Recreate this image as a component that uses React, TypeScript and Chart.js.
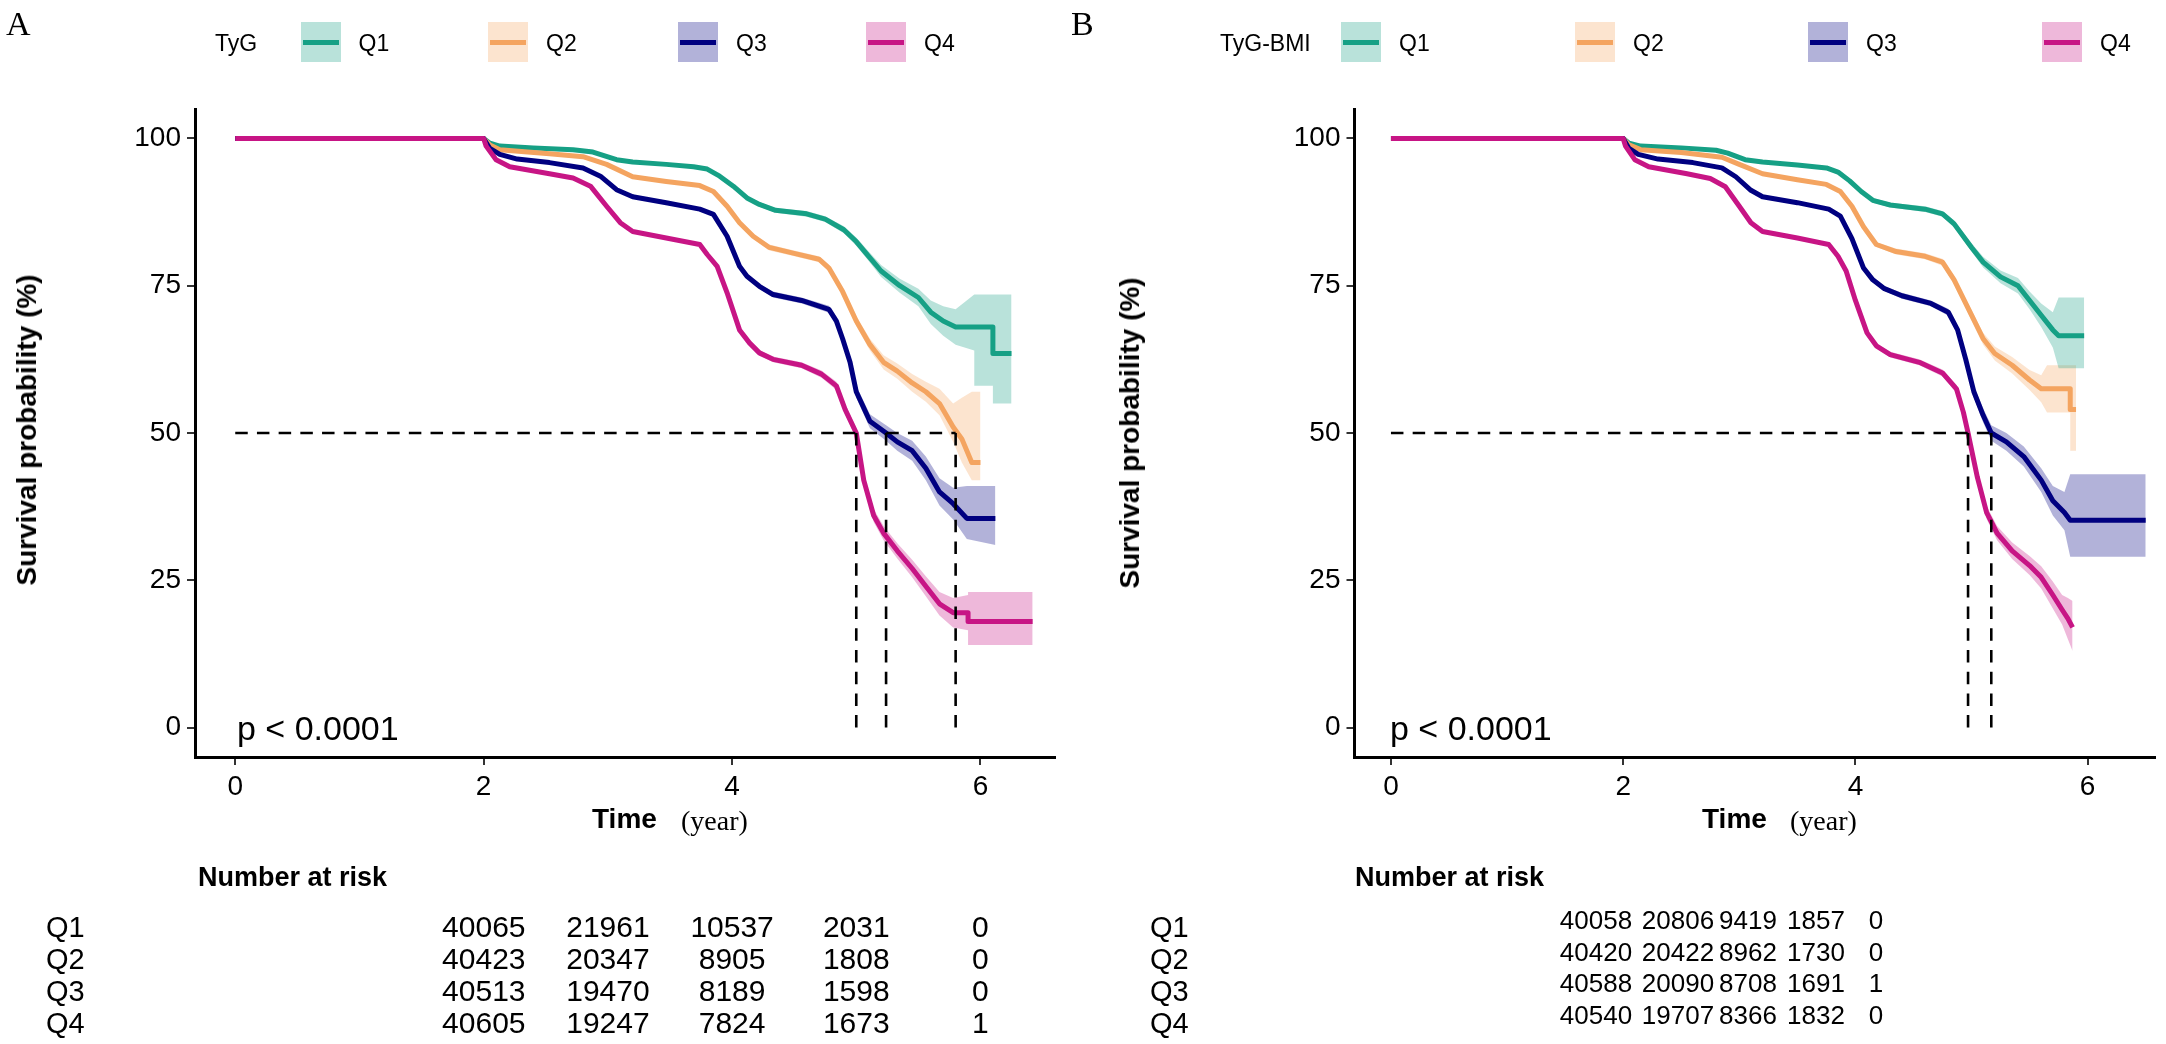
import React, { useEffect, useRef } from "react";
import { Chart, registerables } from "chart.js";
Chart.register(...registerables);

const SANS = '"Liberation Sans", Arial, Helvetica, sans-serif';
const SERIF = '"Liberation Serif", "Times New Roman", serif';

// ---------- data ----------
const groups = ["Q1", "Q2", "Q3", "Q4"];
const lineColors = ["#16A085", "#F4A460", "#000080", "#C71585"];
const bandColors = [
  "rgba(22,160,133,0.3)",
  "rgba(244,164,96,0.3)",
  "rgba(0,0,128,0.3)",
  "rgba(199,21,133,0.3)",
];
const xTicks = [0, 2, 4, 6];
const yTicks = [0, 25, 50, 75, 100];
const riskTimes = [2, 3, 4, 5, 6];

// rows: [time, survival %, lower %, upper %]
const tygQ1 = [
  [0, 100, 100, 100], [2.0, 100, 100, 100], [2.05, 99.2, 99.0, 99.4], [2.13, 98.7, 98.5, 98.9],
  [2.4, 98.4, 98.2, 98.6], [2.72, 98.1, 97.9, 98.3], [2.88, 97.7, 97.5, 97.9], [3.07, 96.4, 96.2, 96.6],
  [3.2, 96.0, 95.8, 96.2], [3.47, 95.6, 95.4, 95.8], [3.69, 95.2, 95.0, 95.4], [3.8, 94.8, 94.5, 95.1],
  [3.9, 93.6, 93.3, 93.9], [4.01, 91.9, 91.6, 92.2], [4.12, 89.9, 89.6, 90.2], [4.22, 88.8, 88.4, 89.2],
  [4.35, 87.8, 87.4, 88.2], [4.6, 87.2, 86.7, 87.7], [4.75, 86.3, 85.8, 86.8], [4.9, 84.5, 83.9, 85.1],
  [5.0, 82.5, 81.8, 83.2], [5.1, 80, 79.2, 80.8], [5.2, 77.5, 76.5, 78.5], [5.35, 75, 73.8, 76.2],
  [5.5, 73, 71.5, 74.5], [5.6, 70.5, 68.5, 72.5], [5.7, 69, 66.5, 71.5], [5.8, 68, 65, 71],
  [5.95, 68, 64, 73.5], [5.95, 68, 58, 73.5], [6.1, 68, 58, 73.5], [6.1, 63.5, 55, 73.5], [6.25, 63.5, 55, 73.5],
];
const tygQ2 = [
  [0, 100, 100, 100], [2.0, 100, 100, 100], [2.05, 98.9, 98.7, 99.1], [2.13, 98.1, 97.9, 98.3],
  [2.53, 97.4, 97.2, 97.6], [2.8, 96.9, 96.7, 97.1], [2.99, 95.6, 95.4, 95.8], [3.2, 93.5, 93.2, 93.8],
  [3.47, 92.7, 92.4, 93.0], [3.74, 92.0, 91.7, 92.3], [3.85, 91.0, 90.7, 91.3], [3.96, 88.5, 88.2, 88.8],
  [4.06, 85.7, 85.3, 86.1], [4.17, 83.4, 83.0, 83.8], [4.3, 81.5, 81.0, 82.0], [4.5, 80.5, 80.0, 81.0],
  [4.7, 79.5, 79.0, 80.0], [4.78, 78, 77.4, 78.6], [4.89, 74, 73.3, 74.7], [5.0, 69, 68.2, 69.8],
  [5.11, 65, 64.0, 66.0], [5.22, 62, 60.8, 63.2], [5.33, 60.5, 59.2, 61.8], [5.45, 58.5, 57.0, 60.0],
  [5.56, 57, 55.3, 58.7], [5.67, 55, 53.0, 57.5], [5.78, 51, 48.5, 55], [5.85, 49, 45, 56],
  [5.93, 45, 42, 57], [6.0, 45, 42, 57],
];
const tygQ3 = [
  [0, 100, 100, 100], [2.0, 100, 100, 100], [2.05, 98.3, 98.1, 98.5], [2.13, 97.3, 97.1, 97.5],
  [2.27, 96.5, 96.3, 96.7], [2.53, 95.9, 95.7, 96.1], [2.8, 95.0, 94.8, 95.2], [2.94, 93.6, 93.4, 93.8],
  [3.07, 91.3, 91.0, 91.6], [3.2, 90.1, 89.8, 90.4], [3.47, 89.1, 88.8, 89.4], [3.74, 88.0, 87.7, 88.3],
  [3.85, 87.1, 86.8, 87.4], [3.96, 83.4, 83.0, 83.8], [4.06, 78.3, 77.9, 78.7], [4.12, 76.6, 76.2, 77.0],
  [4.22, 74.9, 74.5, 75.3], [4.33, 73.5, 73.0, 74.0], [4.56, 72.5, 72.0, 73.0], [4.78, 71, 70.4, 71.6],
  [4.84, 69, 68.3, 69.7], [4.89, 66, 65.2, 66.8], [4.95, 62, 61.1, 62.9], [5.0, 57, 56.0, 58.0],
  [5.11, 52, 50.8, 53.2], [5.24, 50, 48.7, 51.3], [5.33, 48.5, 47.0, 50.0], [5.45, 47, 45.3, 48.7],
  [5.56, 44, 42.0, 46.0], [5.67, 40, 37.7, 42.3], [5.78, 38, 35.3, 40.7], [5.89, 35.5, 32, 41],
  [6.12, 35.5, 31, 41],
];
const tygQ4 = [
  [0, 100, 100, 100], [2.0, 100, 100, 100], [2.02, 98.7, 98.5, 98.9], [2.1, 96.4, 96.2, 96.6],
  [2.21, 95.2, 95.0, 95.4], [2.53, 94.0, 93.8, 94.2], [2.72, 93.3, 93.1, 93.5], [2.86, 91.9, 91.7, 92.1],
  [2.99, 88.5, 88.2, 88.8], [3.1, 85.7, 85.4, 86.0], [3.2, 84.2, 83.9, 84.5], [3.47, 83.1, 82.8, 83.4],
  [3.74, 82.0, 81.7, 82.3], [3.8, 80.3, 80.0, 80.6], [3.88, 78.3, 78.0, 78.6], [3.96, 73.8, 73.4, 74.2],
  [4.06, 67.5, 67.1, 67.9], [4.14, 65.3, 64.9, 65.7], [4.22, 63.6, 63.1, 64.1], [4.33, 62.5, 62.0, 63.0],
  [4.56, 61.5, 61.0, 62.0], [4.72, 60, 59.4, 60.6], [4.84, 58, 57.3, 58.7], [4.91, 54, 53.2, 54.8],
  [5.0, 50, 49.1, 50.9], [5.06, 42, 41.0, 43.0], [5.14, 36, 34.9, 37.1], [5.22, 33, 31.8, 34.2],
  [5.33, 30, 28.7, 31.3], [5.45, 27, 25.5, 28.5], [5.56, 24, 22.3, 25.7], [5.67, 21, 19.0, 23.0],
  [5.78, 19.5, 17, 22], [5.9, 19.5, 16.5, 22.5], [5.9, 18, 14, 23], [6.42, 18, 14, 23],
];
const tygMedians = [5.0, 5.24, 5.8];

const bmiQ1 = [
  [0, 100, 100, 100], [2.0, 100, 100, 100], [2.05, 99.2, 99.0, 99.4], [2.15, 98.7, 98.5, 98.9],
  [2.5, 98.4, 98.2, 98.6], [2.8, 98.0, 97.8, 98.2], [2.9, 97.5, 97.3, 97.7], [3.05, 96.4, 96.2, 96.6],
  [3.2, 96.0, 95.8, 96.2], [3.5, 95.5, 95.3, 95.7], [3.75, 95.0, 94.8, 95.2], [3.85, 94.3, 94.0, 94.6],
  [3.95, 92.8, 92.5, 93.1], [4.05, 91.0, 90.7, 91.3], [4.15, 89.5, 89.1, 89.9], [4.3, 88.7, 88.3, 89.1],
  [4.6, 88.0, 87.5, 88.5], [4.75, 87.2, 86.7, 87.7], [4.85, 85.5, 84.9, 86.1], [5.0, 81.5, 80.8, 82.2],
  [5.1, 79, 78.1, 79.9], [5.25, 76.5, 75.4, 77.6], [5.4, 75, 73.7, 76.3], [5.5, 72.5, 71, 74],
  [5.6, 70, 68, 72], [5.7, 67.5, 64.5, 70.5], [5.75, 66.5, 61, 73], [5.97, 66.5, 61, 73],
];
const bmiQ2 = [
  [0, 100, 100, 100], [2.0, 100, 100, 100], [2.05, 98.9, 98.7, 99.1], [2.15, 98.1, 97.9, 98.3],
  [2.5, 97.6, 97.4, 97.8], [2.85, 96.8, 96.6, 97.0], [3.0, 95.6, 95.4, 95.8], [3.2, 94.0, 93.7, 94.3],
  [3.5, 93.0, 92.7, 93.3], [3.75, 92.2, 91.9, 92.5], [3.87, 91.0, 90.7, 91.3], [3.97, 88.5, 88.2, 88.8],
  [4.07, 85.0, 84.6, 85.4], [4.18, 82.0, 81.6, 82.4], [4.35, 80.8, 80.3, 81.3], [4.6, 80.0, 79.5, 80.5],
  [4.75, 79.0, 78.4, 79.6], [4.85, 76.0, 75.3, 76.7], [5.0, 70.0, 69.1, 70.9], [5.1, 66.0, 65.0, 67.0],
  [5.2, 63.5, 62.3, 64.7], [5.35, 61.5, 60.1, 62.9], [5.5, 59.0, 57.3, 60.7], [5.6, 57.5, 55.2, 59.8],
  [5.65, 57.5, 53.5, 61.5], [5.85, 57.5, 53.5, 61.5], [5.85, 54, 47, 61.5], [5.9, 54, 47, 61.5],
];
const bmiQ3 = [
  [0, 100, 100, 100], [2.0, 100, 100, 100], [2.05, 98.3, 98.1, 98.5], [2.13, 97.3, 97.1, 97.5],
  [2.3, 96.5, 96.3, 96.7], [2.6, 95.9, 95.7, 96.1], [2.85, 95.0, 94.8, 95.2], [2.97, 93.5, 93.3, 93.7],
  [3.1, 91.2, 90.9, 91.5], [3.2, 90.1, 89.8, 90.4], [3.5, 89.1, 88.8, 89.4], [3.77, 88.0, 87.7, 88.3],
  [3.87, 86.8, 86.5, 87.1], [3.97, 83.0, 82.6, 83.4], [4.07, 78.0, 77.6, 78.4], [4.15, 76.0, 75.6, 76.4],
  [4.25, 74.5, 74.1, 74.9], [4.4, 73.3, 72.8, 73.8], [4.65, 72.0, 71.5, 72.5], [4.8, 70.5, 69.9, 71.1],
  [4.88, 67.5, 66.8, 68.2], [4.95, 62.5, 61.6, 63.4], [5.02, 57.0, 56.0, 58.0], [5.1, 53.0, 51.8, 54.2],
  [5.17, 50.0, 48.7, 51.3], [5.3, 48.5, 47.0, 50.0], [5.45, 46.0, 44.3, 47.7], [5.6, 42.0, 40.0, 44.0],
  [5.7, 38.5, 36.0, 41.0], [5.8, 36.5, 33.5, 40.0], [5.85, 35.2, 29, 43], [6.5, 35.2, 29, 43],
];
const bmiQ4 = [
  [0, 100, 100, 100], [2.0, 100, 100, 100], [2.02, 98.7, 98.5, 98.9], [2.1, 96.4, 96.2, 96.6],
  [2.22, 95.2, 95.0, 95.4], [2.55, 94.0, 93.8, 94.2], [2.75, 93.2, 93.0, 93.4], [2.88, 91.8, 91.6, 92.0],
  [3.0, 88.5, 88.2, 88.8], [3.1, 85.7, 85.4, 86.0], [3.2, 84.2, 83.9, 84.5], [3.5, 83.1, 82.8, 83.4],
  [3.77, 82.0, 81.7, 82.3], [3.85, 80.0, 79.7, 80.3], [3.92, 77.5, 77.2, 77.8], [4.0, 72.5, 72.1, 72.9],
  [4.1, 67.0, 66.6, 67.4], [4.18, 64.8, 64.4, 65.2], [4.3, 63.3, 62.8, 63.8], [4.55, 62.0, 61.5, 62.5],
  [4.75, 60.2, 59.6, 60.8], [4.87, 57.5, 56.8, 58.2], [4.93, 53.5, 52.7, 54.3], [4.97, 50.0, 49.1, 50.9],
  [5.05, 42.5, 41.5, 43.5], [5.13, 36.5, 35.4, 37.6], [5.22, 33.0, 31.8, 34.2], [5.35, 30.0, 28.6, 31.4],
  [5.5, 27.5, 25.9, 29.1], [5.6, 25.5, 23.6, 27.4], [5.7, 22.5, 20.2, 24.8], [5.78, 20.0, 17.5, 22.5],
  [5.83, 18.5, 15, 22], [5.87, 17.0, 13, 21.5],
];
const bmiMedians = [4.97, 5.17];

const tygRisk = [
  [40065, 21961, 10537, 2031, 0],
  [40423, 20347, 8905, 1808, 0],
  [40513, 19470, 8189, 1598, 0],
  [40605, 19247, 7824, 1673, 1],
];
const bmiRisk = [
  [40058, 20806, 9419, 1857, 0],
  [40420, 20422, 8962, 1730, 0],
  [40588, 20090, 8708, 1691, 1],
  [40540, 19707, 8366, 1832, 0],
];

// ---------- chart ----------
type KMProps = {
  curves: number[][][];
  medians: number[];
  xMin: number;
  xMax: number;
  left: number;
  width: number;
  padLeft: number;
  padRight: number;
};

function KMChart({ curves, medians, xMin, xMax, left, width, padLeft, padRight }: KMProps) {
  const ref = useRef<HTMLCanvasElement>(null);
  useEffect(() => {
    if (!ref.current) return;
    const dash = { borderColor: "#000", borderWidth: 2.6, borderDash: [12.5, 9.2], pointRadius: 0, fill: false, order: 0 };
    const datasets: any[] = [];
    const maxMed = Math.max(...medians);
    datasets.push({ ...dash, data: [{ x: 0, y: 50 }, { x: maxMed, y: 50 }] });
    medians.forEach((m) => datasets.push({ ...dash, data: [{ x: m, y: 50 }, { x: m, y: 0 }] }));
    curves.forEach((c, i) =>
      datasets.push({
        label: groups[i],
        data: c.map((r) => ({ x: r[0], y: r[1] })),
        borderColor: lineColors[i],
        borderWidth: 5,
        pointRadius: 0,
        fill: false,
        order: 4 - i,
        borderJoinStyle: "round",
      })
    );
    curves.forEach((c, i) => {
      datasets.push({
        data: c.map((r) => ({ x: r[0], y: r[3] })),
        borderColor: "rgba(0,0,0,0)",
        borderWidth: 1,
        pointRadius: 0,
        backgroundColor: bandColors[i],
        fill: "+1",
        order: 10,
      });
      datasets.push({
        data: c.map((r) => ({ x: r[0], y: r[2] })),
        borderColor: "rgba(0,0,0,0)",
        borderWidth: 1,
        pointRadius: 0,
        fill: false,
        order: 10,
      });
    });
    const tickFont = { family: SANS, size: 28 };
    const chart = new Chart(ref.current, {
      type: "line",
      data: { datasets },
      options: {
        animation: false,
        responsive: false,
        maintainAspectRatio: false,
        layout: { padding: { top: 109, bottom: 227, left: padLeft, right: padRight } },
        plugins: { legend: { display: false }, tooltip: { enabled: false } },
        elements: { line: { tension: 0 } },
        scales: {
          x: {
            type: "linear",
            min: xMin,
            max: xMax,
            afterBuildTicks: (s: any) => {
              s.ticks = xTicks.map((v) => ({ value: v }));
            },
            afterFit: (s: any) => {
              s.height = 60;
            },
            grid: { drawOnChartArea: false, drawTicks: true, tickLength: 8, color: "#333", lineWidth: 2 },
            border: { display: true, color: "#000", width: 3 },
            ticks: { color: "#000", font: tickFont, padding: 5, maxRotation: 0, autoSkip: false },
          },
          y: {
            type: "linear",
            min: -5,
            max: 105,
            afterBuildTicks: (s: any) => {
              s.ticks = yTicks.map((v) => ({ value: v }));
            },
            afterFit: (s: any) => {
              s.width = 60;
            },
            grid: { drawOnChartArea: false, drawTicks: true, tickLength: 8, color: "#333", lineWidth: 2 },
            border: { display: true, color: "#000", width: 3 },
            ticks: { color: "#000", font: tickFont, padding: 6, autoSkip: false },
          },
        },
      } as any,
    });
    return () => chart.destroy();
  }, []);
  return (
    <canvas
      ref={ref}
      width={width}
      height={1044}
      style={{ position: "absolute", left, top: 0, width, height: 1044 }}
    />
  );
}

// ---------- text helpers ----------
type TxtProps = {
  x: number;
  y: number;
  size: number;
  bold?: boolean;
  serif?: boolean;
  align?: "left" | "center" | "right";
  children: React.ReactNode;
};
function Txt({ x, y, size, bold, serif, align = "left", children }: TxtProps) {
  const tx = align === "center" ? "-50%" : align === "right" ? "-100%" : "0";
  return (
    <div
      style={{
        position: "absolute",
        left: x,
        top: y,
        transform: `translate(${tx}, -50%)`,
        fontSize: size,
        fontFamily: serif ? SERIF : SANS,
        fontWeight: bold ? "bold" : "normal",
        lineHeight: 1,
        whiteSpace: "nowrap",
        color: "#000",
      }}
    >
      {children}
    </div>
  );
}

function LegendKey({ x, i }: { x: number; i: number }) {
  return (
    <div style={{ position: "absolute", left: x, top: 22, width: 40, height: 40, background: bandColors[i] }}>
      <div style={{ position: "absolute", left: 2, right: 2, top: 18, height: 5, background: lineColors[i] }} />
    </div>
  );
}

export default function App() {
  useEffect(() => {
    document.body.style.margin = "0";
  }, []);
  const legA = [300.6, 488, 678, 866];
  const legB = [1341, 1575, 1808, 2042];
  const riskXA = riskTimes.map((t) => 235.5 + t * 124.15);
  const riskXB = [1596, 1678, 1748, 1816, 1876];
  const rowY = [927, 959, 991, 1023];
  const rowYB = [920, 952, 983, 1015];
  return (
    <div style={{ position: "relative", width: 2166, height: 1044, overflow: "hidden", background: "#fff" }}>
      <KMChart curves={[tygQ1, tygQ2, tygQ3, tygQ4]} medians={tygMedians} xMin={-0.324} xMax={6.6} left={0} width={1083} padLeft={135} padRight={28} />
      <KMChart curves={[bmiQ1, bmiQ2, bmiQ3, bmiQ4]} medians={bmiMedians} xMin={-0.314} xMax={6.58} left={1083} width={1083} padLeft={211.5} padRight={11} />

      {/* panel letters */}
      <Txt x={6} y={24} size={34} serif>A</Txt>
      <Txt x={1071} y={24} size={34} serif>B</Txt>

      {/* legends */}
      <Txt x={215} y={43} size={23}>TyG</Txt>
      {groups.map((g, i) => (
        <React.Fragment key={"la" + g}>
          <LegendKey x={legA[i]} i={i} />
          <Txt x={legA[i] + 58} y={43} size={23}>{g}</Txt>
        </React.Fragment>
      ))}
      <Txt x={1220} y={43} size={23}>TyG-BMI</Txt>
      {groups.map((g, i) => (
        <React.Fragment key={"lb" + g}>
          <LegendKey x={legB[i]} i={i} />
          <Txt x={legB[i] + 58} y={43} size={23}>{g}</Txt>
        </React.Fragment>
      ))}

      {/* y titles */}
      <div style={{ position: "absolute", left: 27, top: 430, transform: "translate(-50%,-50%) rotate(-90deg)", fontFamily: SANS, fontWeight: "bold", fontSize: 28, lineHeight: 1, whiteSpace: "nowrap" }}>
        Survival probability (%)
      </div>
      <div style={{ position: "absolute", left: 1130, top: 433, transform: "translate(-50%,-50%) rotate(-90deg)", fontFamily: SANS, fontWeight: "bold", fontSize: 28, lineHeight: 1, whiteSpace: "nowrap" }}>
        Survival probability (%)
      </div>

      {/* p values */}
      <Txt x={237} y={728} size={34}>p &lt; 0.0001</Txt>
      <Txt x={1390} y={728} size={34}>p &lt; 0.0001</Txt>

      {/* x titles */}
      <Txt x={592} y={819} size={28} bold>Time</Txt>
      <Txt x={681} y={821} size={28} serif>(year)</Txt>
      <Txt x={1702} y={819} size={28} bold>Time</Txt>
      <Txt x={1790} y={821} size={28} serif>(year)</Txt>

      {/* risk tables */}
      <Txt x={198} y={877} size={27} bold>Number at risk</Txt>
      <Txt x={1355} y={877} size={27} bold>Number at risk</Txt>
      {groups.map((g, r) => (
        <React.Fragment key={"ra" + g}>
          <Txt x={46} y={rowY[r]} size={29}>{g}</Txt>
          {tygRisk[r].map((v, c) => (
            <Txt key={c} x={riskXA[c]} y={rowY[r]} size={30} align="center">{v}</Txt>
          ))}
          <Txt x={1150} y={rowY[r]} size={29}>{g}</Txt>
          {bmiRisk[r].map((v, c) => (
            <Txt key={"b" + c} x={riskXB[c]} y={rowYB[r]} size={26} align="center">{v}</Txt>
          ))}
        </React.Fragment>
      ))}
    </div>
  );
}
